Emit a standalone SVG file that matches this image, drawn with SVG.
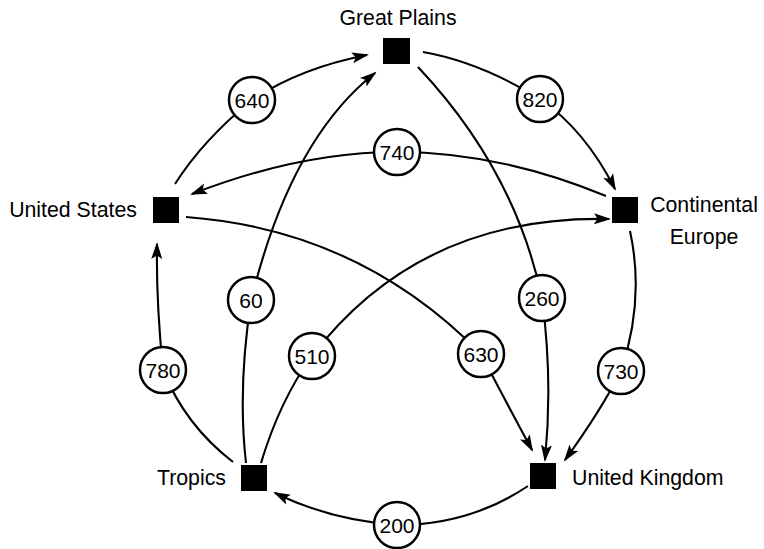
<svg xmlns="http://www.w3.org/2000/svg" width="764" height="549" viewBox="0 0 764 549">
<style>
  .edge { fill: none; stroke: #000; stroke-width: 2.1; marker-end: url(#arrow); }
  .node rect { fill: #000; }
  .lbl { font-family: "Liberation Sans", Arial, Helvetica, sans-serif; font-size: 21.3px; fill: #000; }
  .wc circle { fill: #fff; stroke: #000; stroke-width: 2.5; }
  .wc text { font-family: "Liberation Sans", Arial, Helvetica, sans-serif; font-size: 21px; fill: #000; text-anchor: middle; }
</style>
<defs>
  <marker id="arrow" markerUnits="userSpaceOnUse" markerWidth="18" markerHeight="12" refX="15" refY="6" orient="auto">
    <path d="M0,0.5 L17,6 L0,11.5 L3.5,6 z" fill="#000"/>
  </marker>
</defs>
<rect width="764" height="549" fill="#fff"/>
<g id="connectors">
  <path id="e640" class="edge" d="M175,184 Q203,140 252,100 Q300,68 367,55"/>
  <path id="e820" class="edge" d="M423,52 Q480,62 540,99 Q585,130 615,189"/>
  <path id="e740" class="edge" d="M606,196 Q500,152 397,152 Q300,152 192,194"/>
  <path id="e60" class="edge" d="M246,463 Q237.5,389 251,301 Q290,140 375,73"/>
  <path id="e260" class="edge" d="M418,67 Q515,170 542,298 Q553,380 545,460"/>
  <path id="e510" class="edge" d="M261,463 Q280,400 312,356 Q420,215 609,219"/>
  <path id="e630" class="edge" d="M186,217 Q360,230 481,354 Q505,400 532,450"/>
  <path id="e780" class="edge" d="M233,462 Q185,425 163,370 Q156,300 157,244"/>
  <path id="e730" class="edge" d="M630,231 Q645,300 621,371 Q600,412 565,460"/>
  <path id="e200" class="edge" d="M528,486 Q470,525 397,525 Q330,520 275,493"/>
</g>
<g id="weights" class="wc">
  <g id="w640"><circle cx="252" cy="100" r="23"/><text x="252" y="107.5">640</text></g>
  <g id="w820"><circle cx="540" cy="99" r="23"/><text x="540" y="106.5">820</text></g>
  <g id="w740"><circle cx="397" cy="152" r="23"/><text x="397" y="159.5">740</text></g>
  <g id="w60"><circle cx="251" cy="300" r="23"/><text x="251" y="307.5">60</text></g>
  <g id="w260"><circle cx="542" cy="298" r="23"/><text x="542" y="305.5">260</text></g>
  <g id="w510"><circle cx="312" cy="356" r="23"/><text x="312" y="363.5">510</text></g>
  <g id="w630"><circle cx="481" cy="354" r="23"/><text x="481" y="361.5">630</text></g>
  <g id="w780"><circle cx="163" cy="370" r="23"/><text x="163" y="377.5">780</text></g>
  <g id="w730"><circle cx="621" cy="371" r="23"/><text x="621" y="378.5">730</text></g>
  <g id="w200"><circle cx="397" cy="525" r="23"/><text x="397" y="532.5">200</text></g>
</g>
<g id="great-plains" class="node">
  <rect x="383" y="38" width="27" height="26"/>
  <text class="lbl" x="398" y="25" text-anchor="middle">Great Plains</text>
</g>
<g id="united-states" class="node">
  <rect x="153" y="197" width="26" height="26"/>
  <text class="lbl" x="137" y="217" text-anchor="end">United States</text>
</g>
<g id="continental-europe" class="node">
  <rect x="612" y="197" width="26" height="26"/>
  <text class="lbl" x="704" y="212" text-anchor="middle">Continental</text>
  <text class="lbl" x="704" y="244" text-anchor="middle">Europe</text>
</g>
<g id="tropics" class="node">
  <rect x="241" y="465" width="26" height="26"/>
  <text class="lbl" x="226" y="485" text-anchor="end">Tropics</text>
</g>
<g id="united-kingdom" class="node">
  <rect x="530" y="463" width="26" height="26"/>
  <text class="lbl" x="572" y="485" text-anchor="start">United Kingdom</text>
</g>
</svg>
